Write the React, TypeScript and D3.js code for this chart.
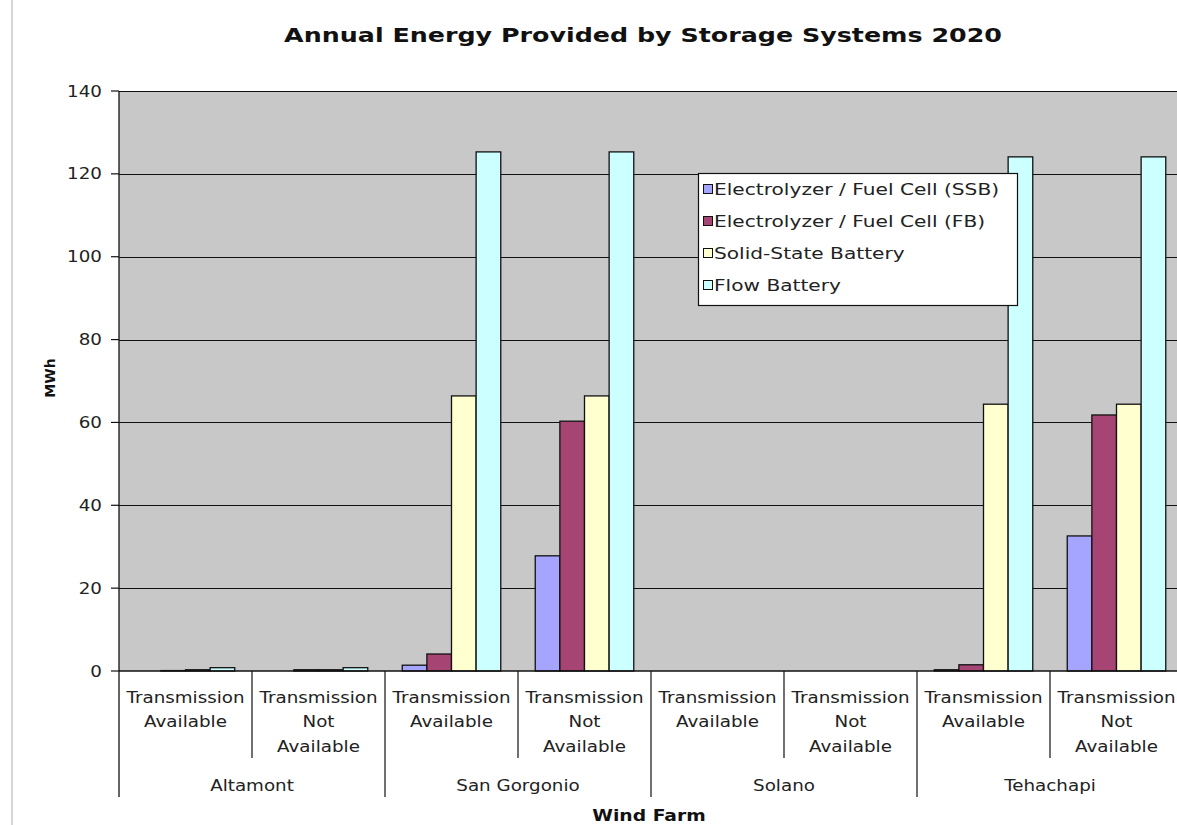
import React, { useEffect, useRef } from 'react';
import * as d3 from 'd3';

const windFarms = ['Altamont', 'San Gorgonio', 'Solano', 'Tehachapi'];
const transmission = ['Transmission Available', 'Transmission Not Available'];
const seriesNames = [
  'Electrolyzer / Fuel Cell (SSB)',
  'Electrolyzer / Fuel Cell (FB)',
  'Solid-State Battery',
  'Flow Battery',
];
const seriesColors = ['#A5A5FF', '#A64574', '#FFFFD0', '#CCFFFF'];

// order: Altamont TA, Altamont TNA, San Gorgonio TA, SG TNA, Solano TA, Solano TNA, Tehachapi TA, Teh TNA
const ssbValues = [0, 0, 1.4, 27.8, 0, 0, 0.3, 32.6];
const fbValues = [0.1, 0.3, 4.1, 60.3, 0, 0, 1.5, 61.8];
const solidStateValues = [0.3, 0.3, 66.4, 66.4, 0, 0, 64.4, 64.4];
const flowValues = [0.8, 0.8, 125.3, 125.3, 0, 0, 124.1, 124.1];
const yTicks = [0, 20, 40, 60, 80, 100, 120, 140];

const W = 1177;
const H = 825;
const font = 'DejaVu Sans, Verdana, sans-serif';
const SX = 1.22; // the source picture is a bit wider than tall, text is stretched too

export default function App() {
  const svgRef = useRef<SVGSVGElement | null>(null);

  useEffect(() => {
    if (!svgRef.current) return;
    const svg = d3.select(svgRef.current);
    svg.selectAll('*').remove();

    // text drawn with a horizontal stretch
    const label = (
      parent: d3.Selection<any, any, any, any>,
      x: number,
      y: number,
      txt: string,
      size: number,
      anchor = 'middle',
      bold = false,
      sx = SX,
    ) =>
      parent.append('text')
        .attr('transform', `translate(${x},${y}) scale(${sx},1)`)
        .attr('text-anchor', anchor)
        .attr('font-family', font)
        .attr('font-size', size)
        .attr('font-weight', bold ? 'bold' : 'normal')
        .attr('fill', bold ? '#111' : '#222')
        .text(txt);

    const left = 119;
    const top = 91;
    const bottom = 671;
    const step = 133;
    const right = left + step * 8;

    const keys = windFarms.flatMap((f) => transmission.map((t) => `${f}|${t}`));
    const x = d3.scaleBand<string>().domain(keys).range([left, right]).padding(0);
    const inner = d3
      .scaleBand<string>()
      .domain(seriesNames)
      .range([0, x.bandwidth()])
      .paddingInner(0)
      .paddingOuter(0.7);
    const y = d3.scaleLinear().domain([0, 140]).range([bottom, top]);

    const allSeries = [ssbValues, fbValues, solidStateValues, flowValues];

    // page border line at the left
    svg.append('line')
      .attr('x1', 12).attr('x2', 12).attr('y1', 0).attr('y2', H)
      .attr('stroke', '#D6D6D6').attr('stroke-width', 2);

    // plot area
    svg.append('rect')
      .attr('x', left).attr('y', top)
      .attr('width', right - left).attr('height', bottom - top)
      .attr('fill', '#C8C8C8');

    // gridlines
    svg.append('g')
      .selectAll('line')
      .data(yTicks.filter((t) => t > 0))
      .join('line')
      .attr('x1', left).attr('x2', right)
      .attr('y1', (d) => Math.round(y(d)) + 0.5).attr('y2', (d) => Math.round(y(d)) + 0.5)
      .attr('stroke', '#111').attr('stroke-width', 1.2);

    // bars
    allSeries.forEach((vals, si) => {
      svg.append('g')
        .selectAll('rect')
        .data(vals.map((v, i) => ({ v, key: keys[i] })).filter((d) => d.v > 0))
        .join('rect')
        .attr('x', (d) => (x(d.key) as number) + (inner(seriesNames[si]) as number))
        .attr('y', (d) => y(d.v))
        .attr('width', inner.bandwidth())
        .attr('height', (d) => bottom - y(d.v))
        .attr('fill', seriesColors[si])
        .attr('stroke', '#111')
        .attr('stroke-width', 1.3);
    });

    // y axis
    const yAxis = svg.append('g').attr('transform', `translate(${left},0)`);
    yAxis.append('line')
      .attr('x1', 0).attr('x2', 0).attr('y1', top).attr('y2', 797)
      .attr('stroke', '#111').attr('stroke-width', 1.3);
    yTicks.forEach((t) => {
      yAxis.append('line')
        .attr('x1', -8).attr('x2', 0).attr('y1', y(t)).attr('y2', y(t))
        .attr('stroke', '#111').attr('stroke-width', 1.2);
      label(yAxis, -17, y(t) + 5.5, String(t), 15, 'end');
    });

    // x axis baseline
    svg.append('line')
      .attr('x1', left).attr('x2', right).attr('y1', bottom).attr('y2', bottom)
      .attr('stroke', '#111').attr('stroke-width', 1.3);

    // sub-category separators and labels
    keys.forEach((k, i) => {
      const x0 = x(k) as number;
      if (i > 0) {
        const isGroup = i % 2 === 0;
        svg.append('line')
          .attr('x1', x0).attr('x2', x0)
          .attr('y1', bottom).attr('y2', isGroup ? 797 : 758)
          .attr('stroke', '#111').attr('stroke-width', 1.2);
      }
      const sub = k.split('|')[1];
      const lines = sub === 'Transmission Available'
        ? ['Transmission', 'Available']
        : ['Transmission', 'Not', 'Available'];
      lines.forEach((ln, li) => {
        label(svg, x0 + x.bandwidth() / 2, 702.5 + li * 24.5, ln, 15);
      });
    });

    // group labels
    windFarms.forEach((f) => {
      const x0 = x(`${f}|${transmission[0]}`) as number;
      label(svg, x0 + x.bandwidth(), 790.5, f, 15);
    });

    // title
    label(svg, 643, 42, 'Annual Energy Provided by Storage Systems 2020', 19.5, 'middle', true, 1.3);

    // axis titles
    label(svg, 649, 821, 'Wind Farm', 15, 'middle', true, 1.25);

    svg.append('text')
      .attr('transform', 'translate(55,378) rotate(-90)')
      .attr('text-anchor', 'middle')
      .attr('font-family', font).attr('font-size', 14).attr('font-weight', 'bold')
      .attr('fill', '#111')
      .text('MWh');

    // legend
    const lg = svg.append('g').attr('transform', 'translate(698,173)');
    lg.append('rect')
      .attr('x', 0.5).attr('y', 0.5).attr('width', 319).attr('height', 132)
      .attr('fill', '#fff').attr('stroke', '#111').attr('stroke-width', 1.2);
    seriesNames.forEach((s, i) => {
      const cy = 16 + i * 32;
      lg.append('rect')
        .attr('x', 5.5).attr('y', cy - 4.5).attr('width', 9).attr('height', 9)
        .attr('fill', seriesColors[i]).attr('stroke', '#111').attr('stroke-width', 1);
      label(lg, 16, cy + 6, s, 16, 'start', false, 1.26);
    });
  }, []);

  return (
    <svg
      ref={svgRef}
      width={W}
      height={H}
      style={{ position: 'absolute', left: 0, top: 0, background: '#fff' }}
    />
  );
}
